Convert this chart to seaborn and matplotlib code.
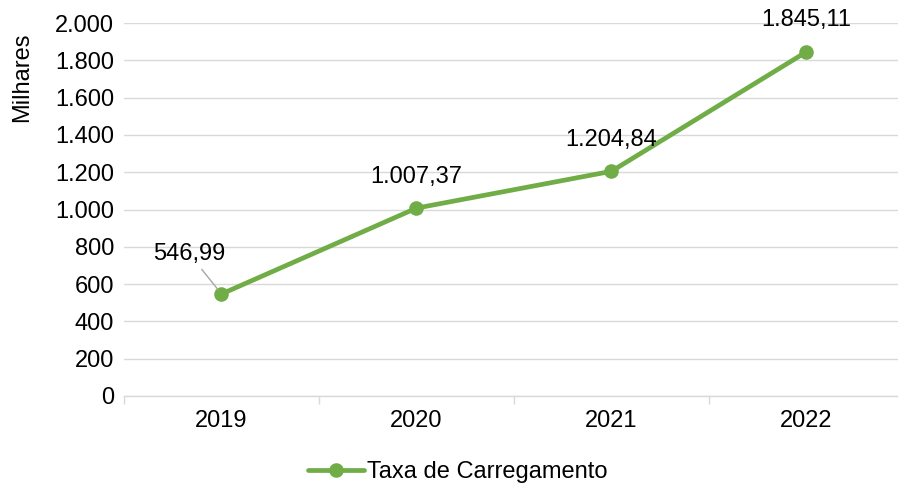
import matplotlib
matplotlib.use("Agg")
import matplotlib.pyplot as plt
import seaborn as sns
import pandas as pd
from matplotlib.ticker import FuncFormatter, FixedLocator

years = ["2019", "2020", "2021", "2022"]
values = [546.99, 1007.37, 1204.84, 1845.11]
labels = ["546,99", "1.007,37", "1.204,84", "1.845,11"]
series_name = "Taxa de Carregamento"
yticks = [0, 200, 400, 600, 800, 1000, 1200, 1400, 1600, 1800, 2000]

sns.set_theme(style="white")
plt.rcParams["font.family"] = ["Liberation Sans", "DejaVu Sans"]
plt.rcParams["text.color"] = "black"

df = pd.DataFrame({"Ano": years, "Valor": values, "Serie": series_name})
color = "#70AD47"
FS = 17

fig = plt.figure(figsize=(8.98, 4.91), dpi=100)
ax = fig.add_axes([124/898, 1 - 396/491, 1 - 124/898, (396 - 23)/491])

sns.lineplot(data=df, x="Ano", y="Valor", hue="Serie", palette=[color], ax=ax,
             marker="o", markersize=10.5, linewidth=3.4, markeredgewidth=0, sort=False)

ax.set_xlim(-0.5, 3.47)
ax.set_ylim(0, 2000)
ax.yaxis.set_major_locator(FixedLocator(yticks))
ax.yaxis.set_major_formatter(FuncFormatter(lambda v, p: f"{int(v):,}".replace(",", ".")))
ax.grid(axis="y", color="#D9D9D9", linewidth=1)
ax.set_axisbelow(True)
for s in ["top", "right", "left"]:
    ax.spines[s].set_visible(False)
ax.spines["bottom"].set_color("#D9D9D9")
ax.spines["bottom"].set_linewidth(1)

ax.set_xticks([0, 1, 2, 3])
ax.set_xticklabels(years)
ax.xaxis.set_minor_locator(FixedLocator([-0.5, 0.5, 1.5, 2.5, 3.5]))
ax.tick_params(axis="x", which="minor", length=6, color="#D9D9D9", width=1, bottom=True)
ax.tick_params(axis="x", which="major", length=0, pad=10, labelsize=FS, labelcolor="black")
ax.tick_params(axis="y", length=0, pad=7, labelsize=FS, labelcolor="black")

ax.set_xlabel("")
ax.set_ylabel("")
fig.text(22/898, 1 - 77/491, "Milhares", rotation=90, ha="center", va="center",
         fontsize=FS, color="black")

# data labels
offsets = [(-32, 40), (0, 31), (0, 31), (0, 32)]
for i, (v, lab) in enumerate(zip(values, labels)):
    dx, dy = offsets[i]
    if i == 0:
        ax.annotate(lab, xy=(i, v), xytext=(dx, dy), textcoords="offset pixels",
                    ha="center", va="center", fontsize=FS, color="black",
                    arrowprops=dict(arrowstyle="-", color="#A6A6A6", lw=1,
                                    shrinkA=1, shrinkB=4))
    else:
        ax.annotate(lab, xy=(i, v), xytext=(dx, dy), textcoords="offset pixels",
                    ha="center", va="center", fontsize=FS, color="black")

leg = ax.legend(loc="center", bbox_to_anchor=(457.5 / 898, (491 - 472) / 491),
                bbox_transform=fig.transFigure,
                frameon=False, fontsize=FS, handlelength=2.4, handletextpad=0.1)
for t in leg.get_texts():
    t.set_color("black")
for h in leg.get_lines():
    h.set_linewidth(3.4)

fig.savefig("out.png", dpi=100)
